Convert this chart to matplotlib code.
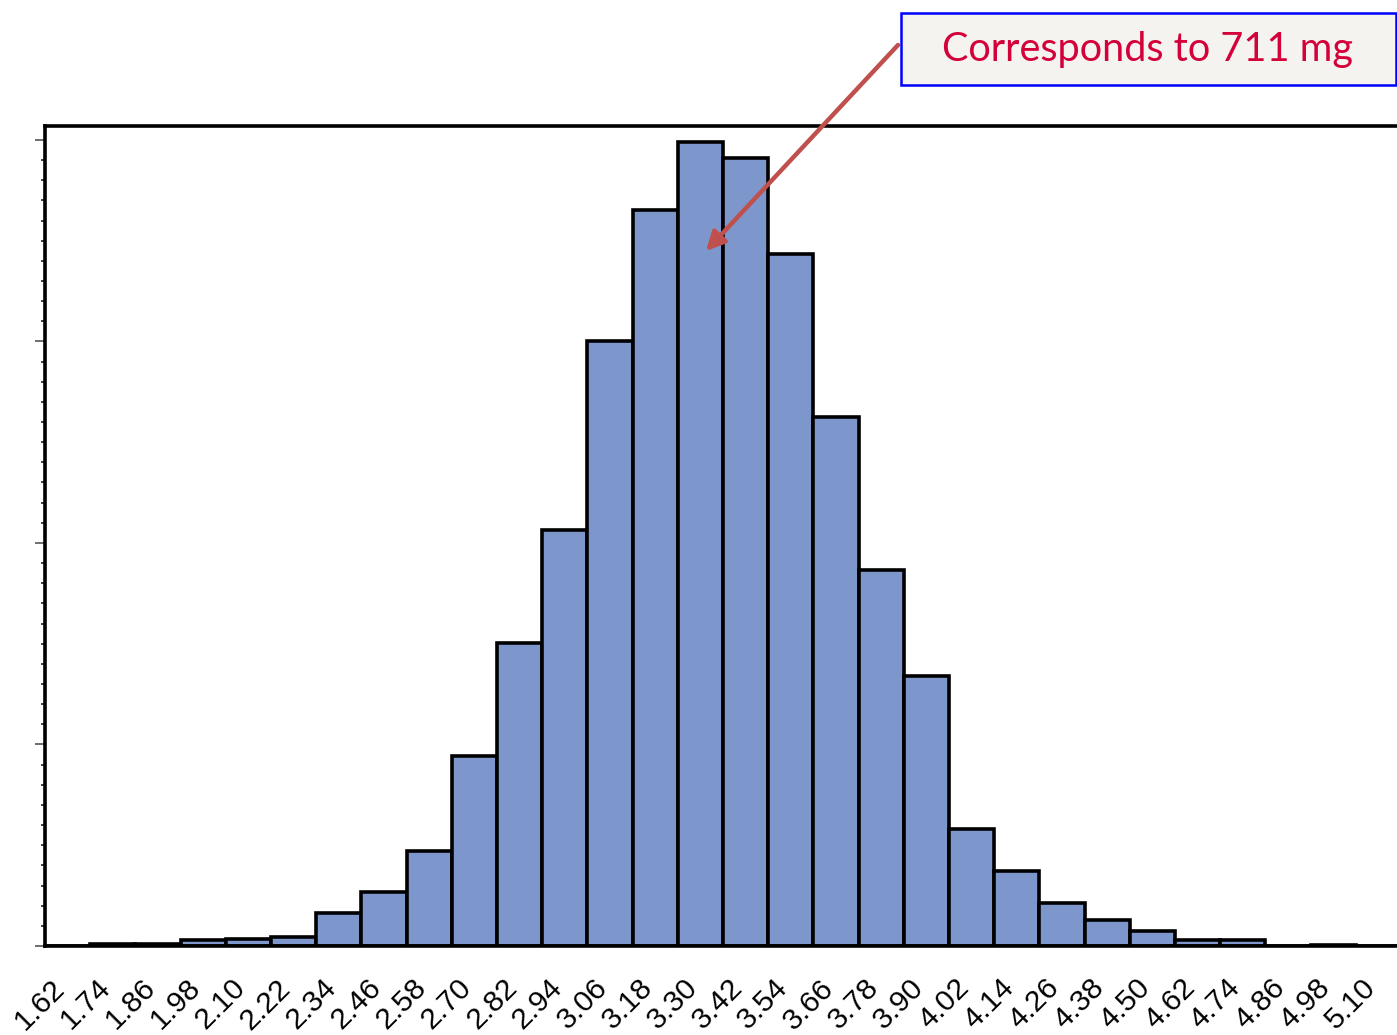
import matplotlib.pyplot as plt
import matplotlib.transforms as mtransforms
import numpy as np
from matplotlib.patches import Rectangle
from matplotlib.ticker import MultipleLocator, NullFormatter

# bin centres (dose units) and counts
bin_centres = [1.62, 1.74, 1.86, 1.98, 2.10, 2.22, 2.34, 2.46, 2.58, 2.70,
               2.82, 2.94, 3.06, 3.18, 3.30, 3.42, 3.54, 3.66, 3.78, 3.90,
               4.02, 4.14, 4.26, 4.38, 4.50, 4.62, 4.74, 4.86, 4.98, 5.10]
counts = [0, 8, 8, 30, 35, 45, 164, 268, 471, 943,
          1504, 2065, 3002, 3653, 3990, 3911, 3434, 2625, 1866, 1340,
          581, 372, 213, 129, 74, 30, 28, 0, 5, 0]
tick_labels = [f"{c:.2f}" for c in bin_centres]
bin_width = 0.12
note_text = "Corresponds to 711 mg"

W, H = 1397, 1035
fig = plt.figure(figsize=(W / 100, H / 100), dpi=100, facecolor="white")
ax = fig.add_axes([45 / W, 89 / H, 1356 / W, 820 / H])

ax.bar(bin_centres, counts, width=bin_width, color="#7D97CC",
       edgecolor="black", linewidth=2.6, align="center", zorder=2)

ax.set_xlim(bin_centres[0] - bin_width / 2, bin_centres[-1] + bin_width / 2)
ax.set_ylim(0, 4069)

for side in ["left", "bottom", "top", "right"]:
    ax.spines[side].set_linewidth(2.6)
    ax.spines[side].set_color("black")

ax.yaxis.set_major_locator(MultipleLocator(1000))
ax.yaxis.set_minor_locator(MultipleLocator(100))
ax.yaxis.set_major_formatter(NullFormatter())
ax.tick_params(axis="y", which="major", length=7, width=1.2, color="#555555", direction="out")
ax.tick_params(axis="y", which="minor", length=3, width=1.2, color="#222222", direction="out")

ax.set_xticks(bin_centres)
ax.set_xticklabels(tick_labels)
ax.tick_params(axis="x", length=0, pad=20, labelsize=21.5)
shift = mtransforms.ScaledTranslation(-17 / 100, 0, fig.dpi_scale_trans)
for lab in ax.get_xticklabels():
    lab.set_rotation(45)
    lab.set_rotation_mode("anchor")
    lab.set_ha("right")
    lab.set_va("top")
    lab.set_family("Liberation Sans")
    lab.set_fontsize(21.5)
    lab.set_transform(lab.get_transform() + shift)

# callout box with arrow
fig.add_artist(Rectangle((901 / W, 1 - 85 / H), 495 / W, 72 / H, transform=fig.transFigure,
                         facecolor="#F5F3EF", edgecolor="#0000FF", linewidth=1.8))
fig.text(1148 / W, 1 - 50 / H, note_text, ha="center", va="center",
         fontsize=28.5, color="#D4003A", family="Lato")
fig.add_artist(plt.Annotation("", xy=(706 / W, 1 - 251 / H), xycoords="figure fraction",
                              xytext=(898 / W, 1 - 45 / H), textcoords="figure fraction",
                              arrowprops=dict(arrowstyle="-|>", color="#C0504D", lw=3.2,
                                              mutation_scale=28, shrinkA=0, shrinkB=0)))

fig.savefig("out.png", dpi=100, facecolor=fig.get_facecolor())
